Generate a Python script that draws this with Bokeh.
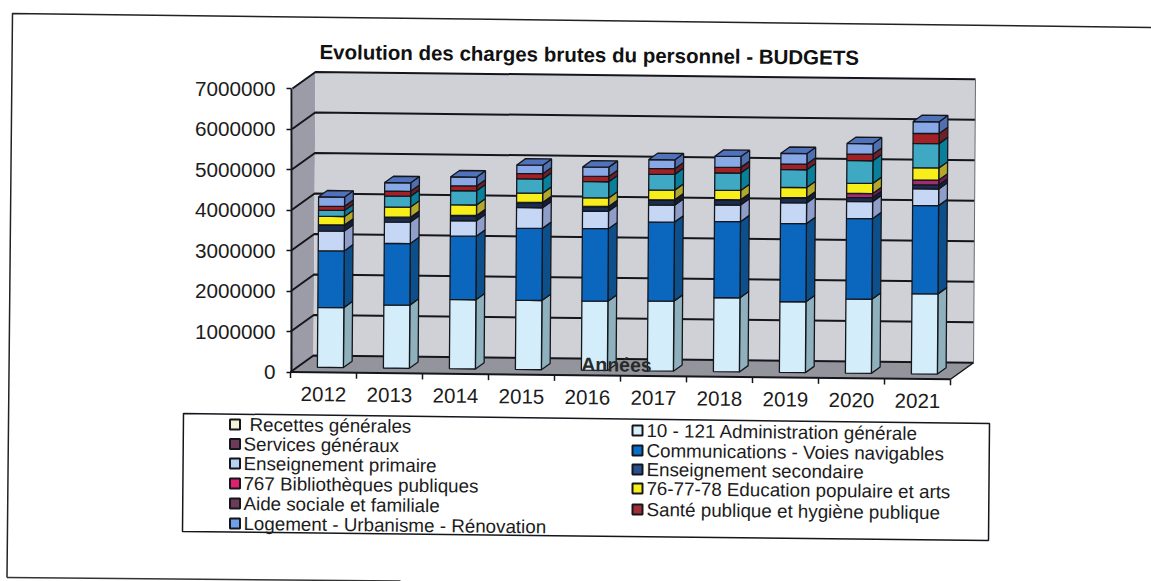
from bokeh.plotting import figure
from bokeh.models import Range1d, LinearAxis, FixedTicker, NumeralTickFormatter
from bokeh.core.properties import value
from bokeh.embed import file_html
from bokeh.resources import INLINE

title = "Evolution des charges brutes du personnel - BUDGETS"
x_title = "Années"
years = [2012, 2013, 2014, 2015, 2016, 2017, 2018, 2019, 2020, 2021]
y_ticks = [0, 1000000, 2000000, 3000000, 4000000, 5000000, 6000000, 7000000]

administration = [1480000, 1560000, 1710000, 1710000, 1710000, 1730000, 1830000, 1750000, 1830000, 1980000]
communications = [1400000, 1520000, 1570000, 1780000, 1790000, 1950000, 1880000, 1930000, 1990000, 2180000]
primaire = [490000, 530000, 380000, 510000, 430000, 420000, 410000, 510000, 420000, 410000]
secondaire = [140000, 110000, 120000, 120000, 110000, 120000, 120000, 120000, 100000, 100000]
bibliotheques = [10000, 10000, 10000, 10000, 10000, 10000, 10000, 10000, 100000, 120000]
education = [210000, 250000, 260000, 230000, 210000, 240000, 230000, 250000, 250000, 300000]
aide_sociale = [150000, 270000, 350000, 350000, 400000, 390000, 430000, 440000, 560000, 600000]
sante = [100000, 120000, 120000, 130000, 130000, 140000, 140000, 140000, 160000, 250000]
logement = [230000, 210000, 220000, 210000, 230000, 220000, 270000, 260000, 260000, 290000]

stack = [administration, communications, primaire, secondaire, bibliotheques,
         education, aide_sociale, sante, logement]
front_colors = ["#d3eefa", "#0b66bd", "#c6d7f5", "#1b2c4e", "#a32b74", "#f8ee1a", "#3fa8c2", "#a32024", "#88a9e6"]
side_colors = ["#8fb1bd", "#0c4f8b", "#8f9dc9", "#141f38", "#701e50", "#b3a82b", "#0a7f99", "#6c2028", "#4f6fb0"]
top_color = "#4f72bb"

legend_labels_left = ["Recettes générales", "Services généraux", "Enseignement primaire",
                      "767 Bibliothèques publiques", "Aide sociale et familiale",
                      "Logement - Urbanisme - Rénovation"]
legend_colors_left = ["#f3f5d8", "#6e3a5a", "#b5d3f5", "#e0206f", "#6e3a5a", "#6f9fe6"]
legend_labels_right = ["10 - 121 Administration générale", "Communications - Voies navigables",
                       "Enseignement secondaire", "76-77-78 Education populaire et arts",
                       "Santé publique et hygiène publique"]
legend_colors_right = ["#d8f0f8", "#0a6fc8", "#2a4f8e", "#f7ee1c", "#a03038"]

W, H = 1151, 581
PX_YEAR, PX_VAL = 66.0, 40.5e-6       # pixels per year / per euro
AX_PX, ZERO_PY = 290.0, 371.5         # page position of the axes origin
X0 = 2012 - (323 - AX_PX) / PX_YEAR   # year coordinate of the y axis
TILT, LEAN = 0.011, 2.0 / 283.0       # the scan is slightly rotated
DEPTH_X, DEPTH_Y = 23.0, 16.5         # pixels of the full depth

xmin = X0 - AX_PX / PX_YEAR
ymax = ZERO_PY / PX_VAL
xr = Range1d(xmin, xmin + W / PX_YEAR)
yr = Range1d(ymax - H / PX_VAL, ymax)

def sx(px):
    return xmin + px / PX_YEAR

def sy(py):
    return ymax - py / PX_VAL

def proj(year, val, depth=0.0, fy=0.0):
    """year/value/depth -> data coordinates of the oblique projection."""
    px = (year - X0) * PX_YEAR
    x = year + (depth * DEPTH_X + val * PX_VAL * LEAN) / PX_YEAR
    y = val + (depth * DEPTH_Y - px * TILT - fy) / PX_VAL
    return x, y

def poly(pts):
    c = [proj(*q) for q in pts]
    return [a for a, _ in c], [b for _, b in c]

p = figure(width=W, height=H, x_range=xr, y_range=yr, output_backend="svg",
           toolbar_location=None, x_axis_location=None, y_axis_location=None,
           min_border=0, outline_line_color=None, background_fill_color="white",
           border_fill_color="white")
p.grid.visible = False

INK = "#14161c"
X1 = X0 + 10
TOP = y_ticks[-1]

# walls and floor
for pts, col in [
    ([(X0, 0, 0), (X0, 0, 1), (X0, TOP, 1), (X0, TOP, 0)], "#9c9ca8"),
    ([(X0, 0, 1), (X1, 0, 1), (X1, TOP, 1), (X0, TOP, 1)], "#d0d1d7"),
    ([(X0, 0, 0), (X1, 0, 0), (X1, 0, 1), (X0, 0, 1)], "#94949c"),
]:
    xs, ys = poly(pts)
    p.patch(xs, ys, fill_color=col, line_color=None)

# gridlines on back wall and side wall
for v in y_ticks:
    xs, ys = poly([(X0, v, 0), (X0, v, 1), (X1, v, 1)])
    p.line(xs, ys, line_color=INK, line_width=2)
xs, ys = poly([(X1, 0, 1), (X1, TOP, 1)])
p.line(xs, ys, line_color="#6a6a74", line_width=1)
xs, ys = poly([(X1, 0, 0), (X1, 0, 1)])
p.line(xs, ys, line_color=INK, line_width=1.5)
xs, ys = poly([(X0, 0, 0), (X1, 0, 0)])
p.line(xs, ys, line_color=INK, line_width=2)

# ticks of the category axis
for k in range(len(years) + 1):
    xa, ya = proj(X0 + k, 0)
    p.segment([xa], [ya], [xa], [ya - 6 / PX_VAL], line_color=INK, line_width=1.5)

# bars
BAR = 26.0 / PX_YEAR
D0, D1 = 0.30, 0.68
for i, yr_ in enumerate(years):
    a, b = yr_ - BAR / 2, yr_ + BAR / 2
    base = 0
    for s, series in enumerate(stack):
        h = series[i]
        xs, ys = poly([(b, base, D0), (b, base, D1), (b, base + h, D1), (b, base + h, D0)])
        p.patch(xs, ys, fill_color=side_colors[s], line_color=INK, line_width=1.3)
        xs, ys = poly([(a, base, D0), (b, base, D0), (b, base + h, D0), (a, base + h, D0)])
        p.patch(xs, ys, fill_color=front_colors[s], line_color=INK, line_width=1.3)
        base += h
    xs, ys = poly([(a, base, D0), (b, base, D0), (b, base, D1), (a, base, D1)])
    p.patch(xs, ys, fill_color=top_color, line_color=INK, line_width=1.3)

# y axis
yaxis = LinearAxis(fixed_location=X0 + 1 / PX_YEAR, bounds=(0, TOP),
                   ticker=FixedTicker(ticks=y_ticks),
                   formatter=NumeralTickFormatter(format="0"))
yaxis.axis_line_color = INK
yaxis.axis_line_width = 2
yaxis.major_tick_line_color = INK
yaxis.major_tick_line_width = 1.5
yaxis.major_tick_in = 0
yaxis.major_tick_out = 5
yaxis.minor_tick_line_color = None
yaxis.major_label_standoff = 11
yaxis.major_label_text_font = "Liberation Sans"
yaxis.major_label_text_font_size = "20.7px"
yaxis.major_label_text_color = "#1c1c1c"
p.add_layout(yaxis, "left")

FONT = value("Liberation Sans")
ANG = -TILT

# category labels
lx, ly = [], []
for yr_ in years:
    xa, ya = proj(yr_, 0, 0, fy=22)
    lx.append(xa)
    ly.append(ya)
p.text(lx, ly, text=[str(y) for y in years], text_font=FONT, text_font_size=value("20.5px"),
       text_color="#1c1c1c", text_align="center", text_baseline="middle", angle=ANG)

# titles
p.text([sx(319)], [sy(51)], text=[title], text_font=FONT, text_font_size=value("20.5px"),
       text_font_style="bold", text_color="#111111", text_align="left",
       text_baseline="middle", angle=ANG)
p.text([sx(616)], [sy(364)], text=[x_title], text_font=FONT, text_font_size=value("19.5px"),
       text_font_style="bold", text_color="#2a2a2a", text_align="center",
       text_baseline="middle", angle=ANG)

# legend box
p.patch([sx(183), sx(989), sx(988), sx(182)], [sy(413), sy(423), sy(540), sy(531)],
        fill_color="white", line_color=INK, line_width=1.5)
left_y = [424, 443.5, 463, 483, 503, 523]
left_x = [249, 243, 243, 243, 243, 243]
right_y = [430, 450, 469, 488, 509]
p.rect([sx(234.5)] * 6, [sy(v) for v in left_y], width=10 / PX_YEAR, height=10 / PX_VAL,
       fill_color=legend_colors_left, line_color=INK, line_width=2)
p.rect([sx(637)] * 5, [sy(v) for v in right_y], width=10 / PX_YEAR, height=10 / PX_VAL,
       fill_color=legend_colors_right, line_color=INK, line_width=2)
p.text([sx(v) for v in left_x], [sy(v) for v in left_y], text=legend_labels_left, text_font=FONT,
       text_font_size=value("18.8px"), text_color="#1c1c1c", text_baseline="middle", angle=ANG)
p.text([sx(646)] * 5, [sy(v) for v in right_y], text=legend_labels_right, text_font=FONT,
       text_font_size=value("18.8px"), text_color="#1c1c1c", text_baseline="middle", angle=ANG)

# scanned page frame
p.line([sx(6.5), sx(12), sx(1151)], [sy(577), sy(13), sy(27)], line_color="#222222", line_width=1.5)
p.line([sx(6.5), sx(400)], [sy(577), sy(580.5)], line_color="#333333", line_width=1.5)

open("out.html", "w").write(file_html(p, INLINE))
